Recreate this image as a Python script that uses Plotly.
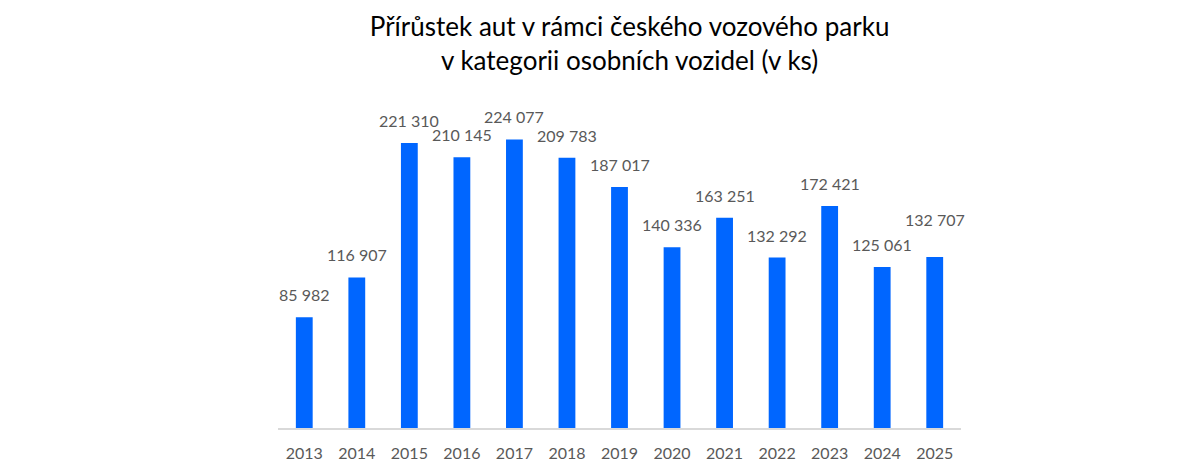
import plotly.graph_objects as go

years = ["2013", "2014", "2015", "2016", "2017", "2018", "2019",
         "2020", "2021", "2022", "2023", "2024", "2025"]
values = [85982, 116907, 221310, 210145, 224077, 209783, 187017,
          140336, 163251, 132292, 172421, 125061, 132707]
labels = [f"{v:,}".replace(",", " ") for v in values]

fig = go.Figure()
fig.add_trace(go.Bar(x=years, y=values, marker=dict(color="#0066FF", line=dict(width=0)),
                     hoverinfo="skip"))

for i, (y, t) in enumerate(zip(values, labels)):
    shift = 11 + (15 if i == len(values) - 1 else 0)
    fig.add_annotation(x=i, y=y, text=t, showarrow=False, yanchor="bottom", yshift=shift,
                       font=dict(family="Lato, Carlito, sans-serif", size=16, color="#595959"))

fig.update_layout(
    width=1200, height=469,
    paper_bgcolor="white", plot_bgcolor="white",
    margin=dict(l=270, r=247, t=98, b=49),
    bargap=0.68,
    showlegend=False,
    title=dict(text="Přírůstek aut v rámci českého vozového parku<br>v kategorii osobních vozidel (v ks)",
               x=0.518, xanchor="center", y=0.94, yanchor="top",
               font=dict(family="Lato, Carlito, sans-serif", size=26, color="#000000")),
    font=dict(family="Lato, Carlito, sans-serif"),
)
fig.update_xaxes(type="category", range=[-0.5, 12.5], showline=True, linecolor="#D9D9D9",
                 linewidth=1.5, ticks="", ticklabelstandoff=10,
                 tickfont=dict(size=16, color="#595959"), showgrid=False)
fig.update_yaxes(range=[0, 250000], visible=False, showgrid=False, zeroline=False)

fig.write_html("out.html")
